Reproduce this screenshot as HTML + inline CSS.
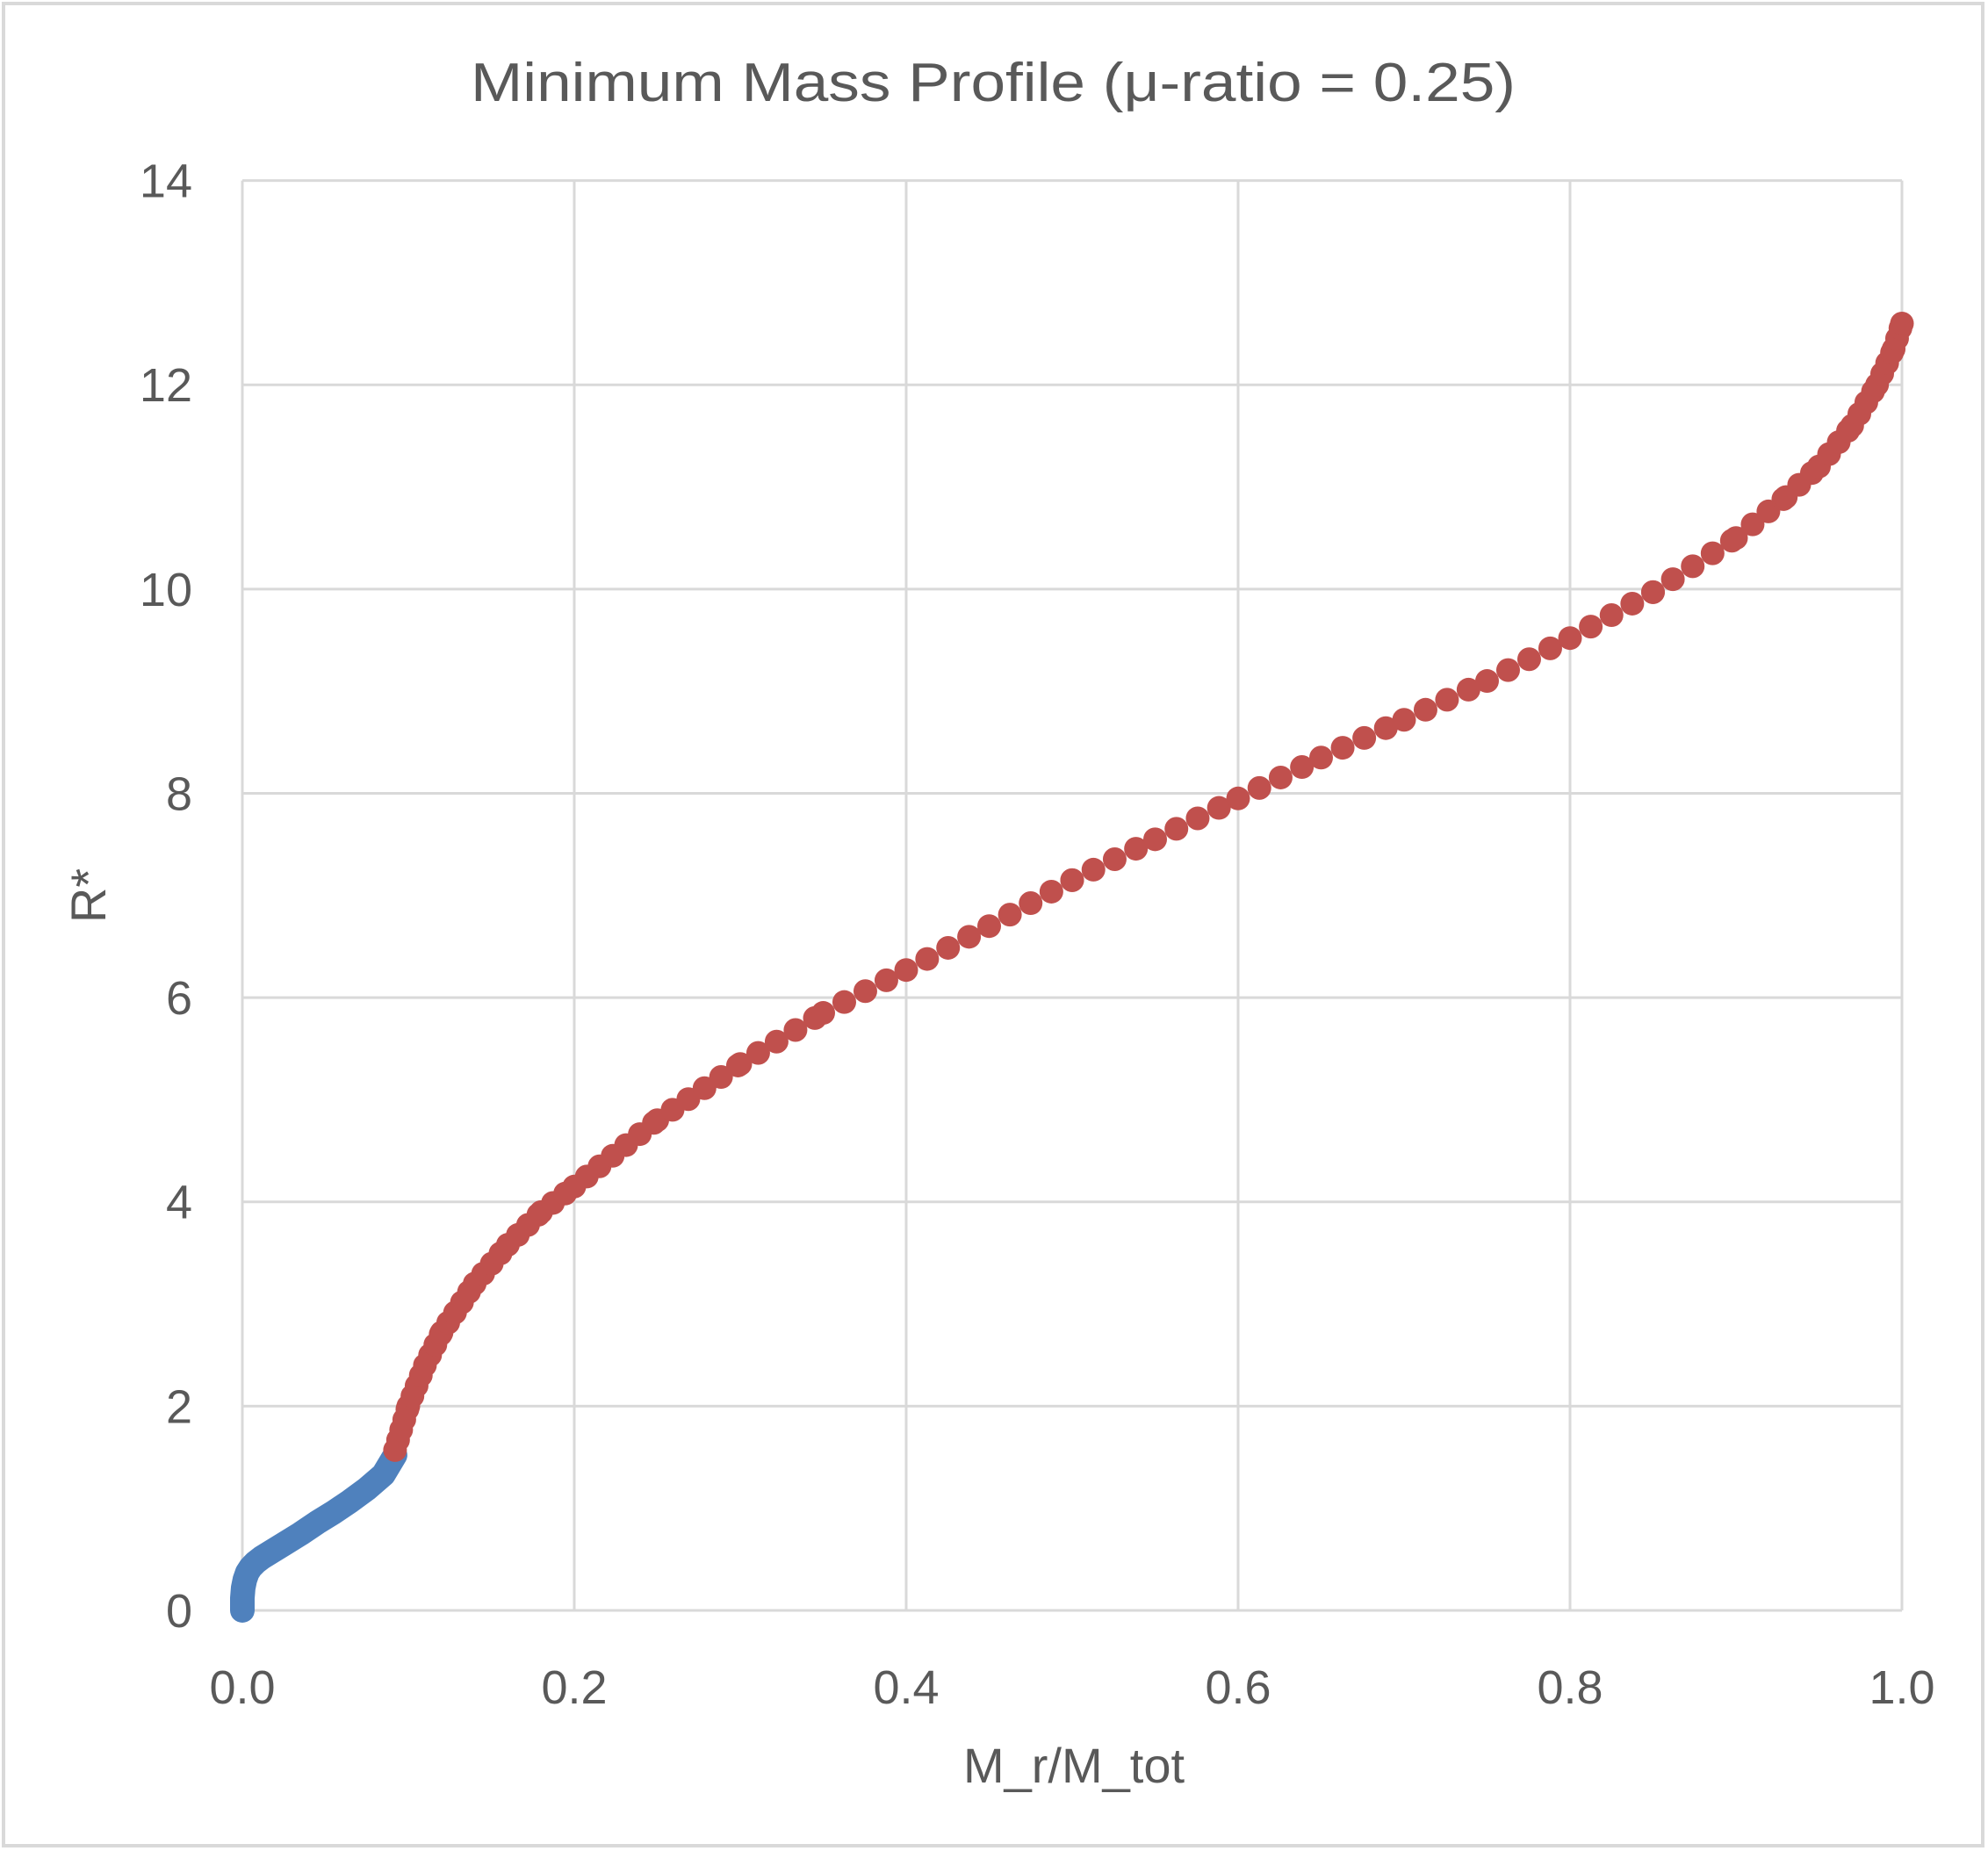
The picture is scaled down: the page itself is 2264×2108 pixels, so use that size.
<!DOCTYPE html>
<html><head><meta charset="utf-8"><style>
html,body{margin:0;padding:0;background:#fff;}
svg{display:block;}
text{font-family:"Liberation Sans",sans-serif;fill:#595959;}
</style></head><body>
<svg id="s" width="2264" height="2108" viewBox="0 0 2264 2108" xmlns="http://www.w3.org/2000/svg">
<rect x="4" y="4" width="2254" height="2098" fill="#fff" stroke="#d9d9d9" stroke-width="4"/>
<g id="grid" stroke="#d9d9d9" stroke-width="3" fill="none"></g>
<text x="1131" y="115" font-size="62" text-anchor="middle" textLength="1190" lengthAdjust="spacingAndGlyphs">Minimum Mass Profile (μ-ratio = 0.25)</text>
<g id="yt" font-size="54" text-anchor="end"></g>
<g id="xt" font-size="54" text-anchor="middle"></g>
<text x="1223" y="2030" font-size="56" text-anchor="middle">M_r/M_tot</text>
<text transform="translate(120,1020) rotate(-90)" font-size="56" text-anchor="middle">R*</text>
<g id="data"></g>
</svg>
<script>
var L=276,R=2166,T=205.6,B=1834;
function X(v){return L+(R-L)*v;} function Y(v){return B-(B-T)*v/14;}
var NS="http://www.w3.org/2000/svg",s=document.getElementById('s');
function el(p,n,a){var e=document.createElementNS(NS,n);for(var k in a)e.setAttribute(k,a[k]);p.appendChild(e);return e;}
var g=document.getElementById('grid');
for(var i=0;i<=7;i++){el(g,'line',{x1:L,x2:R,y1:Y(i*2),y2:Y(i*2)});
 var t=el(document.getElementById('yt'),'text',{x:219,y:Y(i*2)+19});t.textContent=String(i*2);}
for(var i=0;i<=5;i++){el(g,'line',{x1:X(i*0.2),x2:X(i*0.2),y1:T,y2:B});
 var t=el(document.getElementById('xt'),'text',{x:X(i*0.2),y:1940});t.textContent=(i*0.2).toFixed(1);}
var d=document.getElementById('data');
var blue=[[0,0],[0,0.12],[0.0005,0.22],[0.0015,0.3],[0.003,0.37],[0.005,0.42],[0.008,0.47],[0.012,0.52],[0.018,0.58],[0.025,0.65],[0.035,0.75],[0.045,0.86],[0.055,0.96],[0.065,1.07],[0.075,1.19],[0.085,1.33],[0.092,1.52]];
var pb=blue.map(function(p){return X(p[0])+','+Y(p[1]);}).join(' ');
el(d,'polyline',{points:pb,fill:'none',stroke:'#4f81bd','stroke-width':28,'stroke-linecap':'round','stroke-linejoin':'round'});
var red=[[0.092,1.57],[0.1,2.0],[0.11,2.4],[0.12,2.72],[0.14,3.2],[0.16,3.58],[0.18,3.9],[0.2,4.15],[0.25,4.8],[0.3,5.35],[0.35,5.85],[0.4,6.27],[0.45,6.7],[0.5,7.15],[0.55,7.55],[0.6,7.95],[0.65,8.35],[0.7,8.72],[0.75,9.1],[0.8,9.52],[0.85,9.97],[0.9,10.5],[0.93,10.9],[0.95,11.2],[0.97,11.6],[0.985,12.0],[0.995,12.35],[1.0,12.6]];
var pts=red.map(function(p){return [X(p[0]),Y(p[1]),p[0]];});
function sp(x){if(x<0.35)return 12+15*(x-0.092)/0.26;if(x<0.88)return 27;return 27-15*(x-0.88)/0.12;}
for(var i=0;i<pts.length-1;i++){var a=pts[i],b=pts[i+1],dx=b[0]-a[0],dy=b[1]-a[1],len=Math.hypot(dx,dy),pos=0;
 while(pos<=len){var f=pos/len,x=a[0]+dx*f,y=a[1]+dy*f,xv=a[2]+(b[2]-a[2])*f;
  el(d,'circle',{cx:x,cy:y,r:13.5,fill:'#c0504d'});pos+=sp(xv);}
 }
el(d,'circle',{cx:X(1),cy:Y(12.6),r:13.5,fill:'#c0504d'});
</script>
</body></html>
